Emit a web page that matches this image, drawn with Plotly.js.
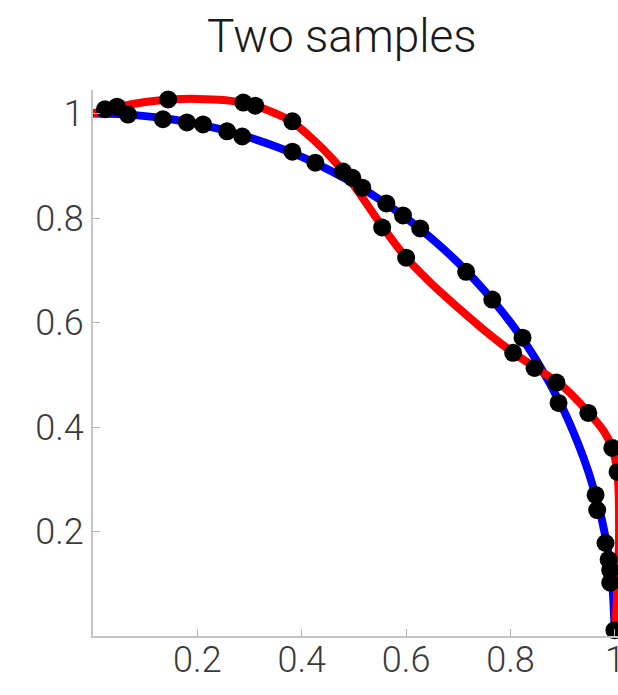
<!DOCTYPE html>
<html>
<head>
<meta charset="utf-8">
<script src="https://cdn.plot.ly/plotly-3.0.1.min.js"></script>
<style>
html,body{margin:0;padding:0;overflow:hidden;background:#fff;}
#chart{width:660px;height:695px;}
</style>
</head>
<body>
<div id="chart"></div>
<script>
// Blue curve (sample 1)
const blueX = [0, 0.05, 0.1, 0.15, 0.2, 0.25, 0.3, 0.35, 0.4, 0.45, 0.5, 0.55, 0.6, 0.65, 0.7, 0.75, 0.8, 0.85, 0.9, 0.93, 0.95, 0.97, 0.98, 0.99, 0.995, 1.0];
const blueY = [1.0, 0.999, 0.995, 0.989, 0.98, 0.968, 0.954, 0.937, 0.917, 0.893, 0.866, 0.835, 0.80, 0.76, 0.714, 0.661, 0.60, 0.527, 0.436, 0.367, 0.312, 0.243, 0.199, 0.141, 0.10, 0.0];
// Red curve (sample 2)
const redX = [0, 0.05, 0.1, 0.15, 0.2, 0.25, 0.3, 0.35, 0.38, 0.42, 0.46, 0.5, 0.55, 0.6, 0.65, 0.7, 0.75, 0.8, 0.85, 0.9, 0.95, 0.98, 0.995, 1.005, 1.008, 1.005, 1.0];
const redY = [1.0, 1.013, 1.022, 1.027, 1.028, 1.026, 1.018, 1.0, 0.985, 0.952, 0.912, 0.862, 0.79, 0.724, 0.673, 0.628, 0.585, 0.546, 0.512, 0.478, 0.427, 0.39, 0.36, 0.31, 0.2, 0.1, 0.0];
// Sample points on blue curve
const blueDotsX = [0.023, 0.067, 0.134, 0.180, 0.211, 0.257, 0.286, 0.382, 0.426, 0.479, 0.497, 0.516, 0.562, 0.594, 0.627, 0.715, 0.765, 0.823, 0.846, 0.892, 0.963, 0.966, 0.982, 0.988, 0.991, 0.991, 0.999];
const blueDotsY = [1.008, 0.998, 0.989, 0.983, 0.979, 0.966, 0.956, 0.927, 0.906, 0.889, 0.877, 0.858, 0.828, 0.805, 0.780, 0.697, 0.644, 0.571, 0.513, 0.446, 0.270, 0.241, 0.178, 0.146, 0.126, 0.102, 0.011];
// Sample points on red curve
const redDotsX = [0.046, 0.144, 0.288, 0.311, 0.382, 0.554, 0.600, 0.805, 0.888, 0.949, 0.995, 1.005];
const redDotsY = [1.013, 1.027, 1.021, 1.015, 0.985, 0.782, 0.724, 0.542, 0.485, 0.427, 0.360, 0.314];
// Tick labels
const tickVals = [0.2, 0.4, 0.6, 0.8, 1];
const tickText = ['0.2', '0.4', '0.6', '0.8', '1'];

const fontFam = 'Roboto, "Liberation Sans", Arial, sans-serif';

const traces = [
  {x: blueX, y: blueY, mode: 'lines', line: {color: '#0000ff', width: 8, shape: 'spline'}, hoverinfo: 'skip'},
  {x: redX, y: redY, mode: 'lines', line: {color: '#ff0000', width: 8, shape: 'spline'}, hoverinfo: 'skip'},
  {x: blueDotsX.concat(redDotsX), y: blueDotsY.concat(redDotsY), mode: 'markers',
   marker: {color: '#000000', size: 18, line: {width: 0}}, cliponaxis: false}
];

const axisCommon = {
  showgrid: false, zeroline: false, showline: true, linecolor: '#c4c4c4', linewidth: 2,
  ticks: 'inside', ticklen: 7, tickwidth: 1, tickcolor: '#b5b5b5',
  tickvals: tickVals, ticktext: tickText,
  tickfont: {family: fontFam, size: 36, color: '#3a3a3a', weight: 300},
  fixedrange: true
};

const layout = {
  width: 660, height: 695,
  margin: {l: 93, r: 19, t: 90, b: 59},
  paper_bgcolor: '#ffffff', plot_bgcolor: '#ffffff',
  showlegend: false,
  title: {text: 'Two samples', font: {family: fontFam, size: 46, color: '#1a1a1a', weight: 300},
          x: 0.518, xref: 'container', xanchor: 'center', y: 0.948, yref: 'container', yanchor: 'middle'},
  xaxis: Object.assign({}, axisCommon, {range: [0, 1.05], ticklabelstandoff: -9}),
  yaxis: Object.assign({}, axisCommon, {range: [0, 1.045], ticklabelstandoff: 0})
};

Plotly.newPlot('chart', traces, layout, {displayModeBar: false, staticPlot: true});
</script>
</body>
</html>
